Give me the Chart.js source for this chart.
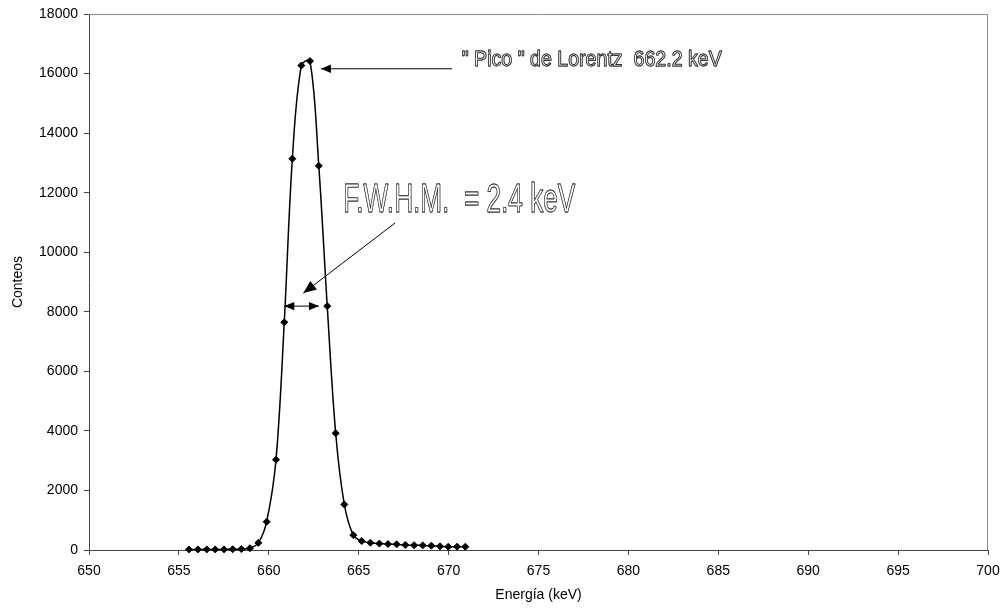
<!DOCTYPE html>
<html>
<head>
<meta charset="utf-8">
<script src="https://cdn.jsdelivr.net/npm/chart.js@4.4.0/dist/chart.umd.min.js"></script>
<style>
  html, body { margin: 0; padding: 0; background: #fff; }
</style>
</head>
<body>
<canvas id="espectro" width="1001" height="609"></canvas>
<script>
const energia = [655.56, 656.06, 656.55, 657.02, 657.51, 657.99, 658.47, 658.95, 659.42, 659.88,
                 660.40, 660.86, 661.31, 661.81, 662.29, 662.78, 663.25, 663.72, 664.20, 664.70,
                 665.17, 665.65, 666.15, 666.63, 667.11, 667.59, 668.08, 668.56, 669.04, 669.52,
                 669.98, 670.47, 670.93];
const conteos = [20, 20, 20, 20, 20, 25, 30, 60, 240, 950,
                 3030, 7650, 13140, 16270, 16420, 12900, 8190, 3920, 1530, 500,
                 300, 245, 215, 200, 190, 170, 160, 155, 145, 125,
                 110, 110, 110];
const ticksX = [650, 655, 660, 665, 670, 675, 680, 685, 690, 695, 700];
const ticksY = [0, 2000, 4000, 6000, 8000, 10000, 12000, 14000, 16000, 18000];

// Anotaciones en unidades de datos
const flechas = [
  { x1: 670.19, y1: 16160, x2: 662.90, y2: 16160, cabeza: 10, doble: false },
  { x1: 667.02, y1: 10980, x2: 661.92, y2: 8627, cabeza: 13, doble: false },
  { x1: 660.86, y1: 8190, x2: 662.79, y2: 8190, cabeza: 10, doble: true }
];
const textos = [
  { texto: '" Pico " de Lorentz  662.2 keV', x: 670.73, y: 16265, size: 22, ancho: 260 },
  { texto: 'F.W.H.M.  = 2.4 keV', x: 664.14, y: 11334, size: 41, ancho: 232 }
];

function dibujaFlecha(ctx, xa, ya, xb, yb, L) {
  const ang = Math.atan2(yb - ya, xb - xa);
  const w = L * 0.42;
  ctx.beginPath();
  ctx.moveTo(xb, yb);
  ctx.lineTo(xb - L * Math.cos(ang) + w * Math.sin(ang), yb - L * Math.sin(ang) - w * Math.cos(ang));
  ctx.lineTo(xb - L * Math.cos(ang) - w * Math.sin(ang), yb - L * Math.sin(ang) + w * Math.cos(ang));
  ctx.closePath();
  ctx.fill();
}

// Marco gris superior y derecho
const marco = {
  id: 'marco',
  beforeDatasetsDraw(chart) {
    const { ctx, chartArea: a } = chart;
    ctx.save();
    ctx.strokeStyle = '#8a8a8a';
    ctx.lineWidth = 1;
    ctx.beginPath();
    ctx.moveTo(a.left, a.top + 0.5);
    ctx.lineTo(a.right - 0.5, a.top + 0.5);
    ctx.lineTo(a.right - 0.5, a.bottom);
    ctx.stroke();
    ctx.restore();
  }
};

const anotaciones = {
  id: 'anotaciones',
  afterDatasetsDraw(chart) {
    const { ctx, scales: { x, y } } = chart;
    ctx.save();
    ctx.strokeStyle = '#000';
    ctx.fillStyle = '#000';
    ctx.lineWidth = 1;
    flechas.forEach(f => {
      const xa = x.getPixelForValue(f.x1), ya = y.getPixelForValue(f.y1);
      const xb = x.getPixelForValue(f.x2), yb = y.getPixelForValue(f.y2);
      ctx.beginPath();
      ctx.moveTo(xa, ya);
      ctx.lineTo(xb, yb);
      ctx.stroke();
      dibujaFlecha(ctx, xa, ya, xb, yb, f.cabeza);
      if (f.doble) dibujaFlecha(ctx, xb, yb, xa, ya, f.cabeza);
    });
    // texto hueco (contorno negro, relleno blanco), comprimido como Arial Narrow
    textos.forEach(t => {
      ctx.save();
      ctx.font = t.size + 'px "Liberation Sans", Arial, sans-serif';
      const w = ctx.measureText(t.texto).width;
      const k = t.ancho / w;
      ctx.translate(x.getPixelForValue(t.x), y.getPixelForValue(t.y));
      ctx.scale(k, 1);
      ctx.textBaseline = 'alphabetic';
      ctx.fillStyle = '#fff';
      ctx.strokeStyle = '#333';
      ctx.lineWidth = 1;
      ctx.lineJoin = 'round';
      ctx.strokeText(t.texto, 0, 0);
      ctx.fillText(t.texto, 0, 0);
      ctx.lineWidth = 0.9;
      ctx.strokeText(t.texto, 0, 0);
      ctx.restore();
    });
    ctx.restore();
  }
};

Chart.defaults.font.family = '"Liberation Sans", Arial, sans-serif';
Chart.defaults.font.size = 14;
Chart.defaults.color = '#000';

new Chart(document.getElementById('espectro'), {
  type: 'scatter',
  data: {
    datasets: [{
      data: energia.map((e, i) => ({ x: e, y: conteos[i] })),
      showLine: true,
      tension: 0.35,
      borderColor: '#000',
      borderWidth: 1.5,
      pointStyle: 'rectRot',
      pointRadius: 3.5,
      pointBorderWidth: 1,
      pointBackgroundColor: '#000',
      pointBorderColor: '#000',
      clip: false
    }]
  },
  options: {
    responsive: false,
    animation: false,
    layout: { padding: { top: 14, right: 13, left: 0, bottom: 0 } },
    plugins: { legend: { display: false }, tooltip: { enabled: false } },
    scales: {
      x: {
        type: 'linear',
        min: 650,
        max: 700,
        afterBuildTicks: s => { s.ticks = ticksX.map(v => ({ value: v })); },
        afterFit: s => { s.height = 59; s.paddingLeft = 0; s.paddingRight = 0; },
        ticks: { padding: 8, maxRotation: 0, callback: v => String(v) },
        grid: { drawOnChartArea: false, drawTicks: true, tickLength: 5, color: '#444' },
        border: { display: true, color: '#444', width: 1 },
        title: { display: true, text: 'Energía (keV)', font: { size: 14 }, padding: { top: 0, bottom: 5 } }
      },
      y: {
        min: 0,
        max: 18000,
        afterBuildTicks: s => { s.ticks = ticksY.map(v => ({ value: v })); },
        afterFit: s => { s.width = 89; s.paddingTop = 0; s.paddingBottom = 0; },
        ticks: { padding: 6, callback: v => String(v) },
        grid: { drawOnChartArea: false, drawTicks: true, tickLength: 5, color: '#444' },
        border: { display: true, color: '#444', width: 1 },
        title: { display: true, text: 'Conteos', font: { size: 14 }, padding: { top: 10, bottom: 0 } }
      }
    }
  },
  plugins: [marco, anotaciones]
});
</script>
</body>
</html>
